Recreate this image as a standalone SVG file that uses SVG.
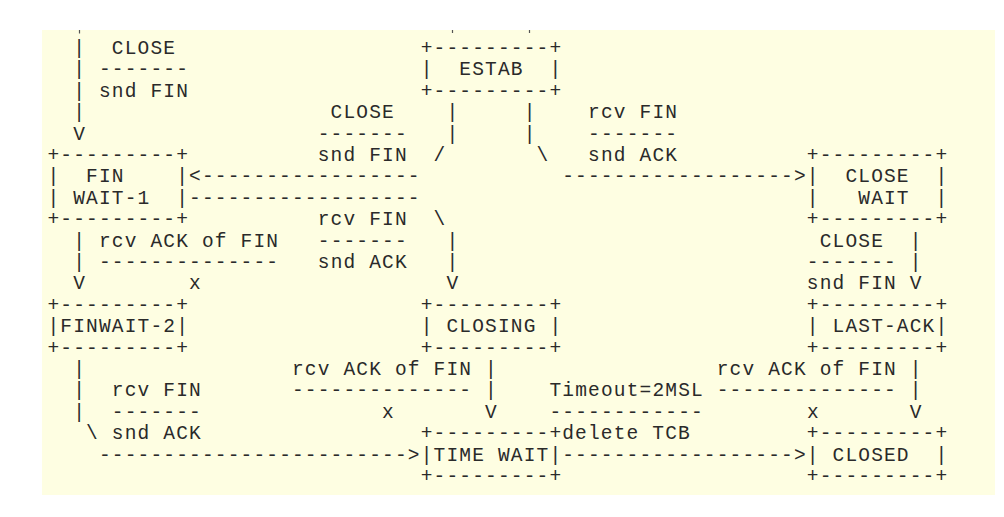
<svg xmlns="http://www.w3.org/2000/svg" width="1004" height="517" viewBox="0 0 1004 517" xml:space="preserve">
<style>
text { font-family: "Liberation Mono", "Courier New", monospace; font-size: 19.5px; letter-spacing: 1.17px; fill: #2a2a2a; white-space: pre; }
.tick { stroke: #555; stroke-width: 1.2; }
</style>
<rect x="0" y="0" width="1004" height="517" fill="#ffffff"/>
<rect x="42" y="30" width="953" height="465" fill="#fefee2"/>
<g id="connectors">
<line class="tick" x1="79.5" y1="30" x2="79.5" y2="33.5"/>
<line class="tick" x1="452.5" y1="30" x2="452.5" y2="33"/>
<line class="tick" x1="529.5" y1="30" x2="529.5" y2="33"/>
<text x="73.19" y="54">|  CLOSE</text>
<text x="73.19" y="75.4">| -------</text>
<text x="73.19" y="96.8">| snd FIN</text>
<text x="73.19" y="118.2">|</text>
<text x="330.59" y="118.2">CLOSE    |     |    rcv FIN</text>
<text x="73.19" y="139.6">V</text>
<text x="317.72" y="139.6">-------   |     |    -------</text>
<text x="317.72" y="161">snd FIN  /       \   snd ACK</text>
<text x="189.02" y="182.4">&lt;-----------------</text>
<text x="562.25" y="182.4">------------------&gt;</text>
<text x="189.02" y="203.8">------------------</text>
<text x="317.72" y="225.2">rcv FIN  \</text>
<text x="73.19" y="246.6">| rcv ACK of FIN   -------   |</text>
<text x="819.65" y="246.6">CLOSE  |</text>
<text x="73.19" y="268">| --------------   snd ACK   |</text>
<text x="806.78" y="268">------- |</text>
<text x="73.19" y="289.4">V        x                   V</text>
<text x="806.78" y="289.4">snd FIN V</text>
<text x="73.19" y="375">|</text>
<text x="291.98" y="375">rcv ACK of FIN |</text>
<text x="716.69" y="375">rcv ACK of FIN |</text>
<text x="73.19" y="396.4">|  rcv FIN</text>
<text x="291.98" y="396.4">-------------- |    Timeout=2MSL -------------- |</text>
<text x="73.19" y="417.8">|  -------              x       V    ------------        x       V</text>
<text x="86.06" y="439.2">\ snd ACK</text>
<text x="562.25" y="439.2">delete TCB</text>
<text x="98.93" y="460.6">------------------------&gt;</text>
<text x="562.25" y="460.6">------------------&gt;</text>
</g>
<g id="estab">
<text x="420.68" y="54">+---------+</text>
<text x="420.68" y="75.4">|  ESTAB  |</text>
<text x="420.68" y="96.8">+---------+</text>
</g>
<g id="fin-wait-1">
<text x="47.45" y="161">+---------+</text>
<text x="47.45" y="182.4">|  FIN    |</text>
<text x="47.45" y="203.8">| WAIT-1  |</text>
<text x="47.45" y="225.2">+---------+</text>
</g>
<g id="close-wait">
<text x="806.78" y="161">+---------+</text>
<text x="806.78" y="182.4">|  CLOSE  |</text>
<text x="806.78" y="203.8">|   WAIT  |</text>
<text x="806.78" y="225.2">+---------+</text>
</g>
<g id="fin-wait-2">
<text x="47.45" y="310.8">+---------+</text>
<text x="47.45" y="332.2">|FINWAIT-2|</text>
<text x="47.45" y="353.6">+---------+</text>
</g>
<g id="closing">
<text x="420.68" y="310.8">+---------+</text>
<text x="420.68" y="332.2">| CLOSING |</text>
<text x="420.68" y="353.6">+---------+</text>
</g>
<g id="last-ack">
<text x="806.78" y="310.8">+---------+</text>
<text x="806.78" y="332.2">| LAST-ACK|</text>
<text x="806.78" y="353.6">+---------+</text>
</g>
<g id="time-wait">
<text x="420.68" y="439.2">+---------+</text>
<text x="420.68" y="460.6">|TIME WAIT|</text>
<text x="420.68" y="482">+---------+</text>
</g>
<g id="closed">
<text x="806.78" y="439.2">+---------+</text>
<text x="806.78" y="460.6">| CLOSED  |</text>
<text x="806.78" y="482">+---------+</text>
</g>
</svg>
